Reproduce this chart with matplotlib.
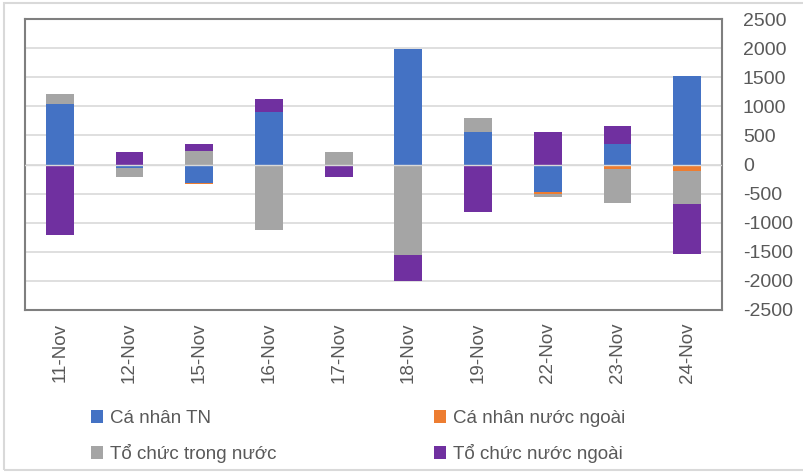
import matplotlib
matplotlib.use("Agg")
import matplotlib.pyplot as plt
import numpy as np
from matplotlib.patches import Rectangle

plt.rcParams['font.family'] = ['Liberation Sans', 'DejaVu Sans']
plt.rcParams['axes.unicode_minus'] = False

# dữ liệu (tỷ đồng)
ngay = ['11-Nov', '12-Nov', '15-Nov', '16-Nov', '17-Nov',
        '18-Nov', '19-Nov', '22-Nov', '23-Nov', '24-Nov']
ca_nhan_tn = [1036, -58, -320, 904, 0, 1990, 560, -464, 347, 1522]
ca_nhan_nn = [-12, -5, -18, -10, -5, -12, -8, -46, -80, -115]
to_chuc_tn = [167, -155, 226, -1124, 211, -1546, 247, -52, -580, -567]
to_chuc_nn = [-1195, 211, 120, 230, -213, -442, -806, 555, 306, -854]
y_ticks = [-2500, -2000, -1500, -1000, -500, 0, 500, 1000, 1500, 2000, 2500]

series = [
    ('Cá nhân TN', ca_nhan_tn, '#4472C4'),
    ('Cá nhân nước ngoài', ca_nhan_nn, '#ED7D31'),
    ('Tổ chức trong nước', to_chuc_tn, '#A5A5A5'),
    ('Tổ chức nước ngoài', to_chuc_nn, '#7030A0'),
]

fig = plt.figure(figsize=(8.04, 4.75), dpi=100)
ax = fig.add_axes([25 / 804, 1 - 310 / 475, 697 / 804, 291 / 475])

x = np.arange(len(ngay))
pos = np.zeros(len(ngay))
neg = np.zeros(len(ngay))
handles = {}
for ten, vals, mau in series:
    v = np.array(vals, dtype=float)
    day = np.where(v >= 0, pos, neg)
    b = ax.bar(x, v, 0.4, bottom=day, color=mau, linewidth=0, zorder=3)
    handles[ten] = b
    pos = pos + np.where(v >= 0, v, 0)
    neg = neg + np.where(v < 0, v, 0)

ax.set_xlim(-0.5, len(ngay) - 0.5)
ax.set_ylim(-2500, 2500)
ax.set_yticks(y_ticks)
ax.yaxis.tick_right()
ax.set_xticks(x)
ax.set_xticklabels(ngay, rotation=90)
ax.tick_params(axis='y', length=0, pad=15, labelsize=14, labelcolor='#595959')
ax.tick_params(axis='x', length=0, pad=9, labelsize=13.5, labelcolor='#595959')
ax.grid(axis='y', color='#D9D9D9', linewidth=1.2, zorder=0)
ax.axhline(0, color='#D9D9D9', linewidth=1.0, zorder=4)
for s in ax.spines.values():
    s.set_color('#7F7F7F')
    s.set_linewidth(1.5)

# chú thích: hai cột, đặt riêng từng cột
cot = [['Cá nhân TN', 'Tổ chức trong nước'],
       ['Cá nhân nước ngoài', 'Tổ chức nước ngoài']]
for i, (x0, ten_cot) in enumerate(zip([91, 434], cot)):
    leg = fig.legend([handles[t] for t in ten_cot], ten_cot,
                     loc='upper left', bbox_to_anchor=(x0 / 804, 1 - 410 / 475),
                     frameon=False, fontsize=13.5, handlelength=0.64,
                     handleheight=0.7, handletextpad=0.37, labelspacing=0.9,
                     borderpad=0, borderaxespad=0, labelcolor='#595959')

# khung ngoài của biểu đồ
fig.patches.append(Rectangle((4 / 804, 5 / 475), 810 / 804, 467 / 475,
                             transform=fig.transFigure, fill=False,
                             edgecolor='#D9D9D9', linewidth=1.5))

fig.savefig('out.png', dpi=100)
